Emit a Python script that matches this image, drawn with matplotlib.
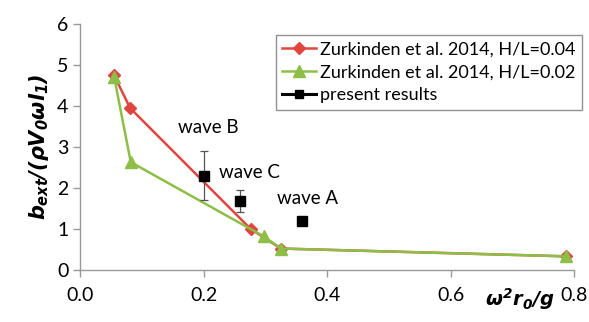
import numpy as np
import matplotlib.pyplot as plt

plt.rcParams['font.family'] = ['Lato', 'DejaVu Sans']
plt.rcParams['mathtext.fontset'] = 'custom'
plt.rcParams['mathtext.it'] = 'DejaVu Sans:italic:bold'
plt.rcParams['mathtext.rm'] = 'DejaVu Sans:italic:bold'
plt.rcParams['mathtext.bf'] = 'DejaVu Sans:italic:bold'

# Zurkinden et al. 2014, H/L=0.04
x_h04 = [0.055, 0.081, 0.276, 0.325, 0.786]
y_h04 = [4.75, 3.95, 1.00, 0.52, 0.33]

# Zurkinden et al. 2014, H/L=0.02
x_h02 = [0.055, 0.082, 0.297, 0.325, 0.786]
y_h02 = [4.72, 2.63, 0.82, 0.52, 0.33]

# present results (waves B, C, A)
x_pres = [0.201, 0.259, 0.360]
y_pres = [2.30, 1.69, 1.20]
err_lo = [0.60, 0.27, 0.10]
err_hi = [0.60, 0.26, 0.08]
wave_names = ['wave B', 'wave C', 'wave A']
label_pos = [(0.159, 3.48), (0.225, 2.37), (0.318, 1.73)]

red = '#E0463F'
green = '#8DBE45'

fig = plt.figure(figsize=(5.89, 3.22), dpi=100)
ax = fig.add_axes([0.136, 0.162, 0.839, 0.763])

l1, = ax.plot(x_h04, y_h04, color=red, lw=1.8, marker='D', ms=6.5,
              label='Zurkinden et al. 2014, H/L=0.04')
l2, = ax.plot(x_h02, y_h02, color=green, lw=1.8, marker='^', ms=9,
              label='Zurkinden et al. 2014, H/L=0.02')
ax.errorbar(x_pres, y_pres, yerr=[err_lo, err_hi], fmt='none',
            ecolor='#555555', elinewidth=0.9, capsize=3, capthick=0.9)
l3, = ax.plot(x_pres, y_pres, ls='none', marker='s', ms=7.5, color='black')

for name, (tx, ty) in zip(wave_names, label_pos):
    ax.text(tx, ty, name, fontsize=13.5, va='center', ha='left')

# legend entry for the present results shows a line through the marker
h3 = plt.Line2D([], [], color='black', lw=2.2, marker='s', ms=6)
leg = ax.legend([l1, l2, h3],
                ['Zurkinden et al. 2014, H/L=0.04',
                 'Zurkinden et al. 2014, H/L=0.02',
                 'present results'],
                loc='upper right', bbox_to_anchor=(1.015, 0.955),
                fontsize=13, fancybox=False, edgecolor='#777777',
                handlelength=1.9, handletextpad=0.2, borderpad=0.35,
                labelspacing=0.38, borderaxespad=0)
leg.get_frame().set_linewidth(1.0)

ax.set_xlim(0, 0.8)
ax.set_ylim(0, 6)
ax.set_xticks(np.arange(0, 0.81, 0.2))
ax.set_xticklabels(['0.0', '0.2', '0.4', '0.6', '0.8'])
ax.set_yticks(range(7))
ax.tick_params(labelsize=14, color='#999999', length=5, width=1, direction='out')
ax.tick_params(axis='x', pad=7)
for s in ['top', 'right']:
    ax.spines[s].set_visible(False)
for s in ['left', 'bottom']:
    ax.spines[s].set_color('#999999')
    ax.spines[s].set_linewidth(1)

ax.set_ylabel(r'$b_{ext}/(\rho V_0\omega l_1)$', fontsize=15, labelpad=4)
fig.text(0.883, 0.03, r'$\omega^2r_0/g$', fontsize=14, ha='center', va='bottom')

fig.savefig('out.png', dpi=100)
